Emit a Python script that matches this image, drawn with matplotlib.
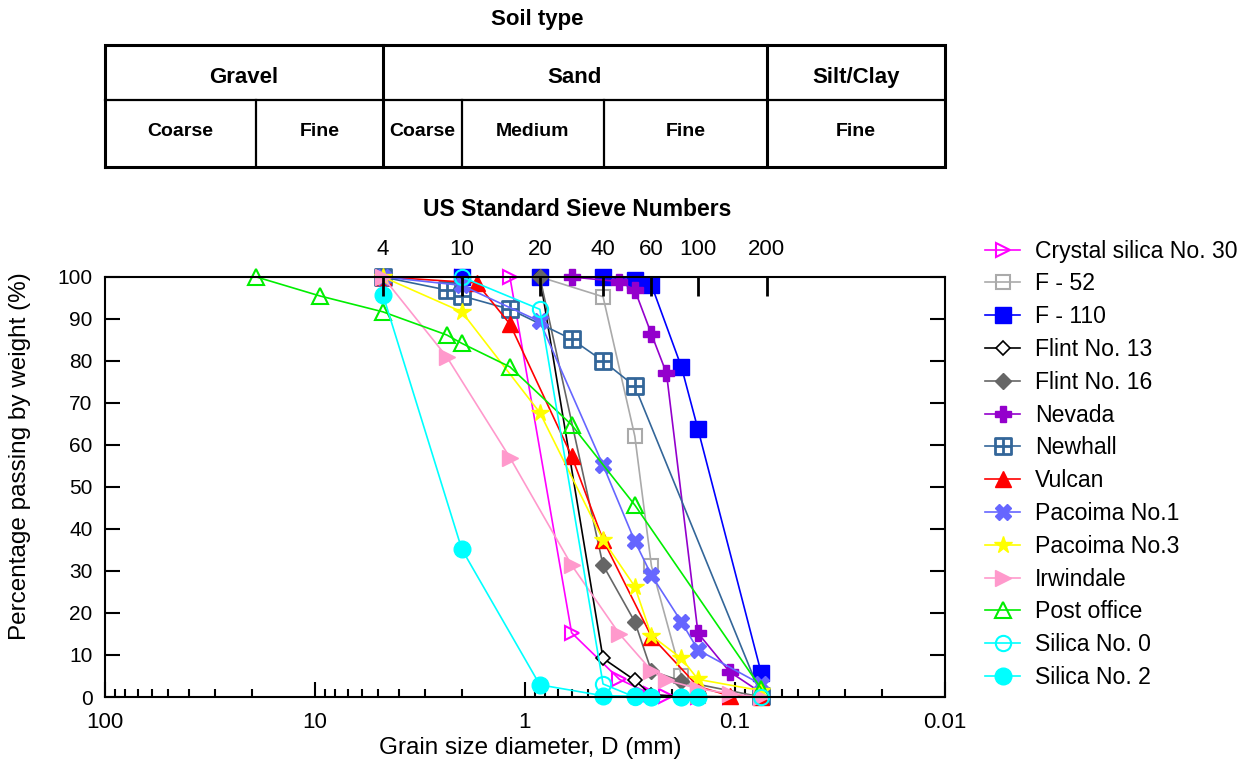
import matplotlib
matplotlib.use("Agg")
import matplotlib.pyplot as plt
from matplotlib.path import Path

plt.rcParams['font.family'] = ['Liberation Sans', 'DejaVu Sans']

# grain sizes (mm) and percent passing for each material
crystal_d = [2.0, 1.18, 0.6, 0.355, 0.25, 0.212, 0.15, 0.106, 0.075]
crystal_p = [100, 100, 15.3, 4.2, 0.6, 0.3, 0, 0, 0]

f52_d = [0.85, 0.425, 0.3, 0.25, 0.18, 0.15, 0.075]
f52_p = [100, 95.3, 62.1, 31.2, 5.1, 0.2, 0]

f110_d = [2.0, 0.85, 0.425, 0.3, 0.25, 0.18, 0.15, 0.075]
f110_p = [100, 100, 100, 99.3, 98.1, 78.6, 63.7, 5.7]

flint13_d = [0.85, 0.425, 0.3, 0.25, 0.18, 0.15, 0.075]
flint13_p = [100, 9.2, 4.0, 0.5, 0.2, 0, 0]

flint16_d = [0.85, 0.425, 0.3, 0.25, 0.18, 0.075]
flint16_p = [100, 31.4, 17.9, 6.2, 3.8, 0]

nevada_d = [0.6, 0.355, 0.3, 0.25, 0.212, 0.15, 0.106, 0.075]
nevada_p = [100, 98.9, 96.9, 86.4, 77.1, 15.2, 6.0, 1.0]

newhall_d = [4.75, 2.36, 2.0, 1.18, 0.6, 0.425, 0.3, 0.075]
newhall_p = [100, 96.9, 95.5, 92.3, 85.2, 80.0, 74.0, 0.3]

vulcan_d = [4.75, 1.7, 1.18, 0.6, 0.425, 0.25, 0.15, 0.106, 0.075]
vulcan_p = [100, 98.6, 88.8, 57.4, 37.4, 14.4, 2.5, 0.3, 0]

pac1_d = [4.75, 2.0, 0.85, 0.425, 0.3, 0.25, 0.18, 0.15, 0.075]
pac1_p = [100, 98, 89.4, 55.2, 37.1, 29.0, 17.9, 11.2, 3.0]

pac3_d = [4.75, 2.0, 0.85, 0.425, 0.3, 0.25, 0.18, 0.15, 0.075]
pac3_p = [100, 91.7, 67.7, 37.4, 26.3, 14.6, 9.2, 4.2, 1.5]

irw_d = [4.75, 2.36, 1.18, 0.6, 0.355, 0.25, 0.212, 0.15, 0.106, 0.075]
irw_p = [100, 81.0, 57.0, 31.4, 15.0, 6.3, 4.0, 2.0, 0.8, 0]

post_d = [19, 9.5, 4.75, 2.36, 2.0, 1.18, 0.6, 0.3, 0.075]
post_p = [100, 95.5, 91.7, 86.2, 84.2, 78.6, 64.8, 45.7, 2.0]

sil0_d = [2.0, 0.85, 0.425, 0.3, 0.25, 0.18, 0.15, 0.075]
sil0_p = [100, 92.3, 3.1, 0, 0, 0, 0, 0]

sil2_d = [4.75, 2.0, 0.85, 0.425, 0.3, 0.25, 0.18, 0.15]
sil2_p = [95.8, 35.2, 2.9, 0.3, 0.2, 0.1, 0, 0]

# US standard sieve numbers and where their ticks sit on the size axis
sieve_nums = ['4', '10', '20', '40', '60', '100', '200']
sieve_tick = [4.75, 2.0, 0.85, 0.425, 0.25, 0.15, 0.0705]

# soil classification table
class_bounds = [100, 19, 4.75, 2.0, 0.42, 0.0705, 0.01]
major_names = ['Gravel', 'Sand', 'Silt/Clay']
major_bounds = [100, 4.75, 0.0705, 0.01]
minor_names = ['Coarse', 'Fine', 'Coarse', 'Medium', 'Fine', 'Fine']

# square with a cross inside (Newhall marker)
boxplus = Path([(-1, -1), (1, -1), (1, 1), (-1, 1), (-1, -1),
                (0, -1), (0, 1), (-1, 0), (1, 0)],
               [Path.MOVETO, Path.LINETO, Path.LINETO, Path.LINETO, Path.CLOSEPOLY,
                Path.MOVETO, Path.LINETO, Path.MOVETO, Path.LINETO])

series = [
    ('Crystal silica No. 30', crystal_d, crystal_p, dict(color='#ff00ff', marker='>', ms=10, mfc='none', mew=1.5)),
    ('F - 52', f52_d, f52_p, dict(color='#aaaaaa', marker='s', ms=10, mfc='none', mew=1.5)),
    ('F - 110', f110_d, f110_p, dict(color='#0000ff', marker='s', ms=11)),
    ('Flint No. 13', flint13_d, flint13_p, dict(color='black', marker='D', ms=7, mfc='white', mew=1.2)),
    ('Flint No. 16', flint16_d, flint16_p, dict(color='#666666', marker='D', ms=8)),
    ('Nevada', nevada_d, nevada_p, dict(color='#9400cc', marker='P', ms=12)),
    ('Newhall', newhall_d, newhall_p, dict(color='#336699', marker=boxplus, ms=11, mfc='white', mew=2)),
    ('Vulcan', vulcan_d, vulcan_p, dict(color='#ff0000', marker='^', ms=11)),
    ('Pacoima No.1', pac1_d, pac1_p, dict(color='#6666ff', marker='X', ms=12)),
    ('Pacoima No.3', pac3_d, pac3_p, dict(color='#ffff00', marker='*', ms=13)),
    ('Irwindale', irw_d, irw_p, dict(color='#ff99cc', marker='>', ms=11)),
    ('Post office', post_d, post_p, dict(color='#00ee00', marker='^', ms=11, mfc='none', mew=1.5)),
    ('Silica No. 0', sil0_d, sil0_p, dict(color='#00ffff', marker='o', ms=11, mfc='none', mew=1.5)),
    ('Silica No. 2', sil2_d, sil2_p, dict(color='#00ffff', marker='o', ms=12)),
]

fig = plt.figure(figsize=(12.5, 7.63), dpi=100)
ax = fig.add_axes([0.084, 0.0865, 0.672, 0.5505])

for name, d, p, style in series:
    ax.plot(d, p, lw=1.2, label=name, clip_on=False, **style)

ax.set_xscale('log')
ax.set_xlim(100, 0.01)
ax.set_ylim(0, 100)
ax.set_yticks(range(0, 101, 10))
ax.set_yticks(range(5, 100, 10), minor=True)
ax.set_xticks([100, 10, 1, 0.1, 0.01])
ax.set_xticklabels(['100', '10', '1', '0.1', '0.01'])
ax.tick_params(which='major', direction='in', length=11, width=1.5,
               top=False, right=True)
ax.tick_params(which='minor', direction='in', length=5.5, width=1.5, top=False, right=True)
ax.tick_params(axis='x', labelsize=16, pad=11)
ax.tick_params(axis='y', labelsize=15, pad=9)
for s in ax.spines.values():
    s.set_linewidth(1.5)

# sieve numbers along the top
ax2 = ax.twiny()
ax2.set_xscale('log')
ax2.set_xlim(100, 0.01)
ax2.minorticks_off()
ax2.set_xticks(sieve_tick)
ax2.set_xticklabels(sieve_nums)
ax2.tick_params(direction='in', length=14, width=2, labelsize=16, pad=12)
for s in ax2.spines.values():
    s.set_visible(False)

ax.legend(loc='upper left', bbox_to_anchor=(0.781, 0.698), bbox_transform=fig.transFigure,
          frameon=False, fontsize=16.6, handlelength=1.5, handletextpad=0.65,
          labelspacing=0.425, borderaxespad=0)

# soil type table
tax = fig.add_axes([0.084, 1 - 167 / 763, 0.672, 122 / 763])
tax.set_xscale('log')
tax.set_xlim(100, 0.01)
tax.set_ylim(0, 1)
tax.axis('off')
mid = 0.55
tax.plot([100, 0.01, 0.01, 100, 100], [0, 0, 1, 1, 0], color='black', lw=2.2,
         clip_on=False, solid_joinstyle='miter')
tax.plot([100, 0.01], [mid, mid], color='black', lw=1.6, clip_on=False)
for b in major_bounds[1:-1]:
    tax.plot([b, b], [0, 1], color='black', lw=2.2, clip_on=False)
for b in [class_bounds[1], class_bounds[3], class_bounds[4]]:
    tax.plot([b, b], [0, mid], color='black', lw=1.6, clip_on=False)
for i, name in enumerate(major_names):
    xc = (major_bounds[i] * major_bounds[i + 1]) ** 0.5
    tax.text(xc, 0.73, name, ha='center', va='center', fontsize=16, fontweight='bold')
for i, name in enumerate(minor_names):
    xc = (class_bounds[i] * class_bounds[i + 1]) ** 0.5
    tax.text(xc, 0.295, name, ha='center', va='center', fontsize=14, fontweight='bold')

fig.text(0.4296, 0.9738, 'Soil type', ha='center', va='center', fontsize=16, fontweight='bold')
fig.text(0.4616, 0.7248, 'US Standard Sieve Numbers', ha='center', va='center',
         fontsize=16.5, fontweight='bold')
fig.text(0.016, 0.4024, 'Percentage passing by weight (%)', rotation=90,
         ha='center', va='center', fontsize=17.5)
fig.text(0.424, 0.0197, 'Grain size diameter, D (mm)', ha='center', va='center', fontsize=17.5)

plt.savefig('out.png', dpi=100)
plt.close()
